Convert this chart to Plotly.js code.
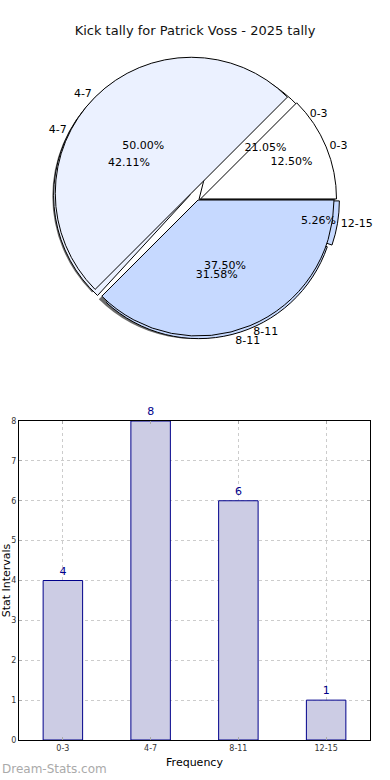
<!DOCTYPE html>
<html>
<head>
<meta charset="utf-8">
<script src="https://cdn.plot.ly/plotly-3.0.1.min.js"></script>
<style>html,body{margin:0;padding:0;background:#fff;}#chart{width:390px;height:780px;}</style>
</head>
<body>
<div id="chart"></div>
<script>
// ---- data ----
const categories = ['0-3', '4-7', '8-11', '12-15'];
const seasonCounts = [4, 8, 6, 1];        // bar chart + first pie (21.05 / 42.11 / 31.58 / 5.26 %)
const secondPieCounts = [1, 4, 3, 0];     // second pie (12.50 / 50.00 / 37.50 %)
const titleText = 'Kick tally for Patrick Voss - 2025 tally';
const xTitle = 'Frequency';
const yTitle = 'Stat Intervals';
const yTicks = [0, 1, 2, 3, 4, 5, 6, 7, 8];

// ---- styling ----
const W = 390, H = 780;
const pieColors = ['#ffffff', '#ebf1ff', '#c6d9ff', '#c6d9ff'];
const FONT = 'DejaVu Sans, sans-serif';
function px(x0, x1) { return [x0 / W, x1 / W]; }
function py(yTop, yBot) { return [(H - yBot) / H, (H - yTop) / H]; }

const cx = 198, cy = 200, r = 136, maxPull = 0.07;
const half = r * (1 + maxPull);
const pieDomain = { x: px(cx - half, cx + half), y: py(cy - half, cy + half) };
const shadowDomain = { x: px(cx - half - 3, cx + half - 3), y: py(cy - half + 3, cy + half + 3) };

const pullA = [0.01, 0.07, 0.02, 0.04];
const pullB = [0.02, 0.07, 0.0, 0.0];

// Plotly's counterclockwise pies end the first slice at `rotation`; make the first slice start at 3 o'clock
function startAt3(vals) {
  const tot = vals.reduce((a, b) => a + b, 0);
  return 90 - 360 * vals[0] / tot;
}

function pie(vals, extra) {
  return Object.assign({ type: 'pie', labels: categories, values: vals, sort: false,
    direction: 'counterclockwise', rotation: startAt3(vals), hoverinfo: 'skip', showlegend: false }, extra);
}
const clear = { colors: categories.map(() => 'rgba(0,0,0,0)'), line: { width: 0 } };
const pctFont = { family: FONT, size: 11, color: '#000' };
const edge = vals => ({ color: '#000', width: vals.map(v => (v > 0 ? 1 : 0)) });
const onlyNonZero = (vals, tpl) => vals.map(v => (v > 0 ? tpl : ''));

const traces = [
  // shadow
  pie(secondPieCounts, { domain: shadowDomain, pull: pullB, textinfo: 'none',
    marker: { colors: categories.map(() => 'rgba(70,70,70,0.8)'), line: { width: 0 } } }),
  // first pie (under)
  pie(seasonCounts, { domain: pieDomain, pull: pullA, textinfo: 'none',
    marker: { colors: pieColors, line: edge(seasonCounts) } }),
  // second pie (top)
  pie(secondPieCounts, { domain: pieDomain, pull: pullB, textinfo: 'none',
    marker: { colors: pieColors, line: edge(secondPieCounts) } }),
  // percent texts
  pie(seasonCounts, { domain: pieDomain, pull: pullA, marker: clear,
    texttemplate: onlyNonZero(seasonCounts, '%{percent:.2%}'), textposition: 'inside',
    insidetextorientation: 'horizontal', textfont: pctFont }),
  pie(secondPieCounts, { domain: pieDomain, pull: pullB, marker: clear,
    texttemplate: onlyNonZero(secondPieCounts, '%{percent:.2%}'), textposition: 'inside',
    insidetextorientation: 'horizontal', textfont: pctFont }),
  // outside labels
  pie(seasonCounts, { domain: pieDomain, pull: pullA, marker: clear,
    texttemplate: onlyNonZero(seasonCounts, '%{label}'), textposition: 'outside', outsidetextfont: pctFont }),
  pie(secondPieCounts, { domain: pieDomain, pull: pullB, marker: clear,
    texttemplate: onlyNonZero(secondPieCounts, '%{label}'), textposition: 'outside', outsidetextfont: pctFont }),
  // bar chart
  { type: 'bar', x: categories, y: seasonCounts, width: 0.45, xaxis: 'x', yaxis: 'y',
    marker: { color: '#ccccE4', line: { color: '#00008b', width: 1 } },
    text: seasonCounts.map(String), textposition: 'outside', cliponaxis: false,
    textfont: { family: FONT, size: 11, color: '#00008b' }, hoverinfo: 'skip', showlegend: false }
];

const layout = {
  width: W, height: H, margin: { l: 0, r: 0, t: 0, b: 0 },
  paper_bgcolor: '#fff', plot_bgcolor: '#fff',
  font: { family: FONT, color: '#000' },
  title: { text: titleText, x: 0.5, xanchor: 'center', y: 1 - 30 / H, yanchor: 'middle',
    font: { family: FONT, size: 13, color: '#111' } },
  xaxis: { domain: px(19, 370), range: [-0.5, 3.5], type: 'category',
    showline: true, mirror: 'ticks', linecolor: '#000', linewidth: 1,
    showgrid: true, gridcolor: '#cccccc', griddash: 'dot', gridwidth: 1,
    ticks: 'inside', ticklen: 3, tickcolor: '#aaa',
    tickfont: { family: FONT, size: 8, color: '#333' },
    title: { text: xTitle, font: { family: FONT, size: 11, color: '#000' }, standoff: 6 } },
  yaxis: { domain: py(421, 740), range: [0, 8], tickvals: yTicks,
    showline: true, mirror: 'ticks', linecolor: '#000', linewidth: 1,
    showgrid: true, gridcolor: '#cccccc', griddash: 'dot', gridwidth: 1, zeroline: false,
    ticks: 'inside', ticklen: 3, tickcolor: '#aaa',
    tickfont: { family: FONT, size: 8, color: '#333' },
    title: { text: yTitle, font: { family: FONT, size: 11, color: '#000' }, standoff: 0 } },
  annotations: [
    { text: 'Dream-Stats.com', xref: 'paper', yref: 'paper', x: 0, y: 0, xanchor: 'left', yanchor: 'bottom',
      yshift: 2, showarrow: false, font: { family: FONT, size: 12, color: '#aaaaaa' } }
  ]
};

Plotly.newPlot('chart', traces, layout, { staticPlot: true, displayModeBar: false });
</script>
</body>
</html>
